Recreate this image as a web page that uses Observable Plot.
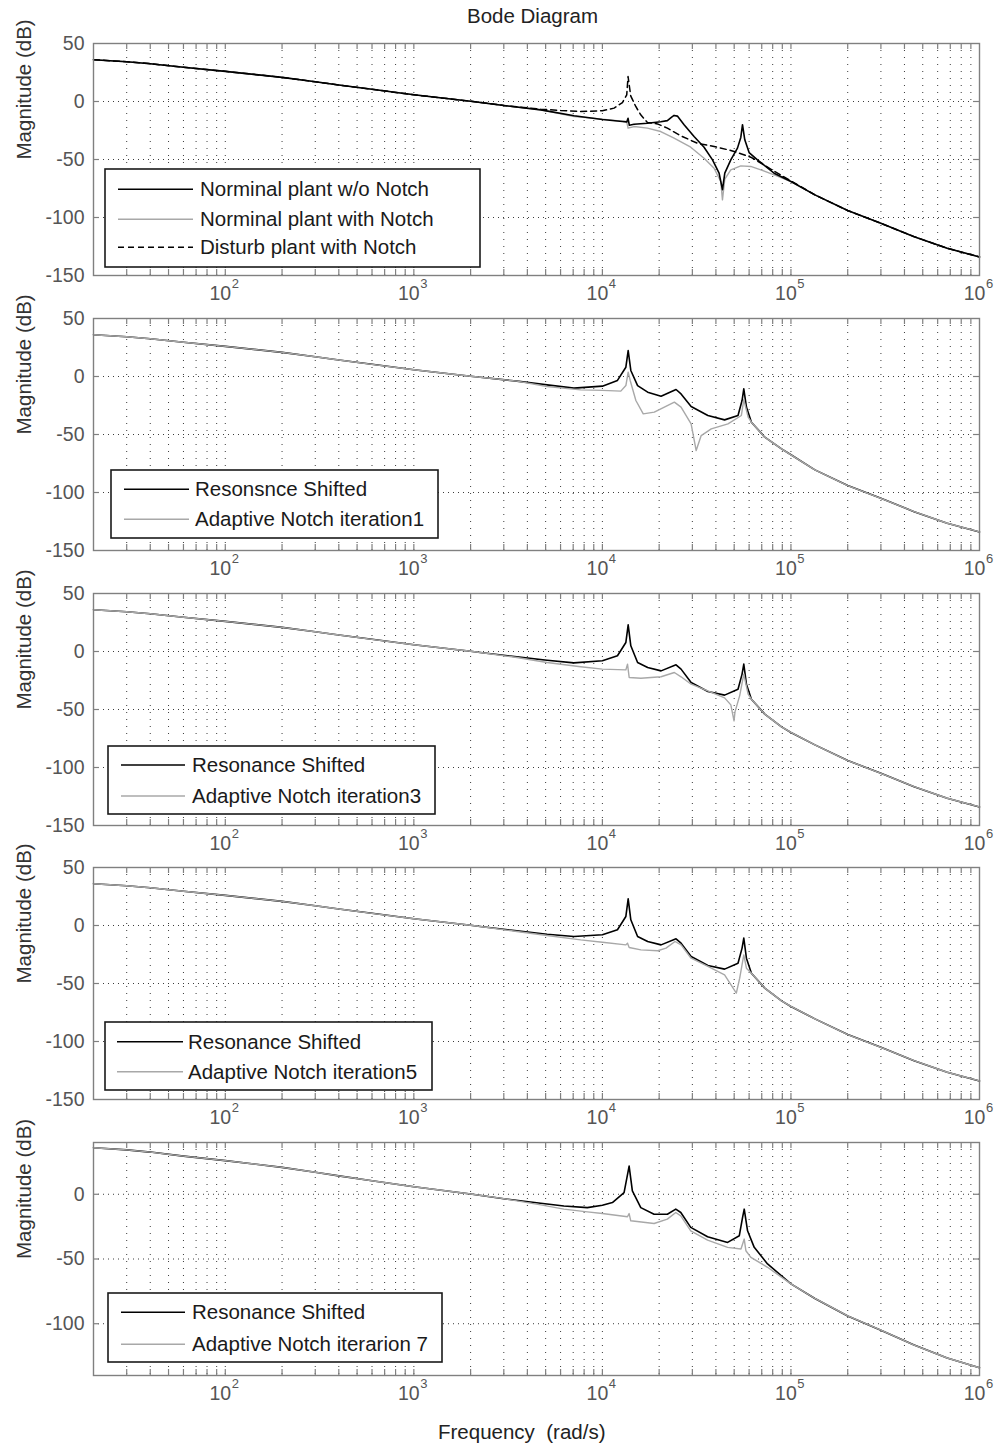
<!DOCTYPE html>
<html>
<head>
<meta charset="utf-8">
<title>Bode Diagram</title>
<script src="https://cdn.jsdelivr.net/npm/d3@7"></script>
<script src="https://cdn.jsdelivr.net/npm/@observablehq/plot@0.6"></script>
<style>
html,body{margin:0;padding:0;background:#fff;}
#page{position:relative;width:995px;height:1447px;overflow:hidden;font-family:"Liberation Sans",Arial,sans-serif;}
#page svg.panel{position:absolute;left:0;}
#overlay{position:absolute;left:0;top:0;pointer-events:none;}
</style>
</head>
<body>
<div id="page"></div>
<script>
// ================= DATA =================
// shared low-frequency part of every curve (rad/s, dB)
const baseFreq = [20, 30, 40, 60, 100, 200, 300, 400, 600, 1000, 2000];
const baseDb   = [36, 34.3, 32.6, 29.5, 26, 20.8, 17, 14.2, 10.5, 5.8, 0.2];
// shared high-frequency tail
const tailFreq = [134000, 200000, 300000, 450000, 674000, 1000000];
const tailDb   = [-80.5, -94, -105, -116.5, -126.5, -134];

// ---- panel 1 ----
const p1NomFreq = [3000, 4710, 7080, 10000, 12770, 13460, 13680, 13900, 14720, 17330, 20390, 22110, 23300, 24000, 24990, 27120, 30630, 34610, 38370, 41580, 43330, 44580, 47970, 52040, 54200, 55340, 56910, 59990, 66420, 81400, 100000];
const p1NomDb   = [-3.4, -7.2, -12.3, -15.5, -17.2, -17.6, -14.5, -20.5, -19.6, -18.7, -17.5, -16.5, -13.5, -12, -12.6, -20, -30.2, -39.4, -50.3, -61.8, -76, -61.8, -50.3, -40.2, -31, -20, -33, -44, -50.3, -61.8, -69];
const p1NotchFreq = [3000, 4710, 7080, 10000, 13460, 13680, 14720, 17330, 20390, 24000, 29410, 34610, 39120, 42420, 43330, 44580, 47970, 54200, 61210, 69210, 81400, 100000];
const p1NotchDb   = [-3.4, -7.2, -12.9, -15.2, -17.5, -23, -21.6, -23, -25.9, -31.6, -39.4, -48.9, -57.5, -69, -84.8, -67, -58.9, -55.5, -56, -58.9, -63.2, -69];
const p1DistFreq = [3000, 4710, 6010, 7680, 10000, 11530, 12770, 13460, 13680, 14130, 15030, 15970, 17330, 19590, 22110, 26050, 31910, 39120, 47970, 54200, 61210, 69210, 81400, 100000];
const p1DistDb   = [-3.4, -6.6, -7.8, -8.6, -8, -5.7, -0.9, 5.7, 21.5, 4.9, -4.3, -11.5, -18, -19.3, -23, -29.6, -36, -38.8, -42.2, -45, -48, -53, -60, -68.5];

// ---- panel 2 ----
const p2ResFreq = [2250, 3520, 5090, 7060, 10000, 12020, 13320, 13700, 14150, 15370, 17380, 20470, 24580, 26130, 29550, 36260, 44470, 52390, 55050, 56220, 58060, 61710, 72620, 89170, 100000];
const p2ResDb   = [-0.6, -4, -7.2, -10, -8.3, -3.4, 8, 22.4, 5.2, -7.8, -13.5, -17, -11.2, -15, -25.9, -33.6, -37.4, -33.6, -20.7, -10.6, -26.4, -39.4, -52.3, -62.4, -67.5];
const p2AdaptFreq = [2250, 3520, 5090, 7670, 10000, 12520, 13320, 13700, 14040, 15050, 16470, 18850, 24080, 26130, 29550, 31430, 33420, 37780, 46340, 54590, 56220, 59280, 61710, 72620, 89170, 100000];
const p2AdaptDb   = [-0.6, -4, -8.6, -11.5, -12, -12.6, -7.8, 3.7, -3.4, -20.7, -32.2, -30.7, -22.1, -26.4, -40.8, -63.8, -50.9, -45.1, -40.8, -33.6, -20, -35, -39.4, -52.3, -62.4, -67.5];

// ---- panel 3 ----
const p3ResFreq = [2250, 3520, 5090, 7060, 10000, 12020, 13320, 13700, 14150, 15370, 17380, 20470, 24580, 26130, 29550, 36260, 44470, 52390, 55050, 56220, 58060, 61710, 72620, 89170, 100000];
const p3ResDb   = [-0.9, -4.6, -7.5, -9.8, -8, -3.7, 7.8, 23, 4.9, -9.5, -13.8, -16.7, -11.5, -15.2, -26.7, -34.5, -37.6, -32.5, -19.5, -10.9, -28.2, -41.1, -54, -65, -69.8];
const p3AdaptFreq = [2250, 3520, 5090, 7670, 10000, 13320, 13590, 13870, 16010, 20470, 24080, 26130, 29550, 36260, 44470, 48000, 49900, 50500, 53480, 56220, 59280, 61710, 72620, 89170, 100000];
const p3AdaptDb   = [-0.9, -5.2, -9.5, -13.2, -15.2, -15.8, -10.9, -22.4, -23, -21.8, -18.1, -21.8, -28.2, -33.9, -40, -46, -59.8, -52, -38, -19.5, -36.8, -41.1, -54, -65, -69.8];

// ---- panel 4 ----
const p4ResFreq = [2250, 3520, 5090, 7060, 10000, 12020, 13320, 13700, 14150, 15370, 17380, 20470, 24580, 26130, 29550, 36260, 44470, 52390, 55050, 56220, 58060, 61710, 72620, 89170, 100000];
const p4ResDb   = [-0.9, -4.6, -7.5, -9.5, -8, -3.7, 7.8, 23, 4.9, -9.5, -13.8, -16.7, -11.5, -15.2, -26.7, -34.5, -37.6, -32.5, -19.5, -10.9, -28.2, -41.1, -54, -65, -69.8];
const p4AdaptFreq = [2250, 3520, 5090, 7670, 10000, 13320, 13590, 13870, 16010, 19640, 21750, 24280, 26130, 29550, 36260, 44470, 51320, 53480, 56220, 58060, 61710, 72620, 89170, 100000];
const p4AdaptDb   = [-0.9, -5.2, -8.6, -12.4, -14.4, -16.7, -15.2, -19, -21, -21.8, -19.5, -13.8, -16.7, -28.2, -35.3, -42.5, -58.3, -45.4, -25.3, -36.8, -41.1, -54, -65, -69.8];

// ---- panel 5 ----
const p5ResFreq = [3000, 4710, 6250, 8320, 10000, 11300, 13030, 13860, 14420, 15980, 18800, 22110, 24500, 26050, 29410, 36130, 46140, 53230, 55390, 56520, 58870, 63860, 75130, 100000];
const p5ResDb   = [-3.4, -6.9, -9, -10.3, -8.5, -6.4, 1.3, 21.8, 2.6, -10.3, -15.4, -15.4, -11.5, -14.1, -25.6, -32.8, -37.2, -32, -17.9, -11.5, -28.2, -41, -53.8, -69.2];
const p5AdaptFreq = [3000, 4710, 6250, 8320, 10000, 13580, 13860, 14140, 18800, 22110, 24500, 26050, 29410, 36130, 46140, 54330, 56520, 57680, 61310, 75130, 100000];
const p5AdaptDb   = [-3.4, -8.2, -11.5, -13.6, -14.9, -17.4, -14.9, -20.5, -22.6, -19.2, -14.1, -16.7, -28.2, -35.4, -41, -42.3, -34.6, -43.6, -48.7, -56.4, -69.2];

// ---- text ----
const titleText = "Bode Diagram";
const yLabelText = "Magnitude (dB)";
const xLabelText = "Frequency  (rad/s)";
const xTickValues = [100, 1000, 10000, 100000, 1000000];
const xTickExponents = ["2", "3", "4", "5", "6"];
const yTicksFull = [-150, -100, -50, 0, 50];
const yTicksLast = [-100, -50, 0];
const p1Labels = ["Norminal plant w/o Notch", "Norminal plant with Notch", "Disturb plant with Notch"];
const p2Labels = ["Resonsnce Shifted", "Adaptive Notch iteration1"];
const p3Labels = ["Resonance Shifted", "Adaptive Notch iteration3"];
const p4Labels = ["Resonance Shifted", "Adaptive Notch iteration5"];
const p5Labels = ["Resonance Shifted", "Adaptive Notch iterarion 7"];

// ================= BUILD =================
const pts = (f, d) => [
  ...baseFreq.map((x, i) => ({f: x, db: baseDb[i]})),
  ...f.map((x, i) => ({f: x, db: d[i]})),
  ...tailFreq.map((x, i) => ({f: x, db: tailDb[i]}))
];

const BLACK = {stroke: "#000", strokeWidth: 1.6};
const GRAY = {stroke: "#a8a8a8", strokeWidth: 1.4};
const DASH = {stroke: "#000", strokeWidth: 1.5, strokeDasharray: "6,4"};

const W = 995, ML = 93, MR = 16, MT = 8, MB = 32;
const frameW = W - ML - MR;
const frameColor = "#808080";
const gridColor = "#3c3c3c";

// minor + major x ticks strictly inside the domain
const xAllTicks = [];
for (let e = 1; e <= 5; e++) for (let m = 1; m <= 9; m++) {
  const v = m * Math.pow(10, e);
  if (v > 20 && v < 1e6) xAllTicks.push(v);
}

const panels = [
  {frameTop: 43, frameH: 232, yDomain: [-150, 50], yTicks: yTicksFull,
   series: [[pts(p1NotchFreq, p1NotchDb), GRAY], [pts(p1NomFreq, p1NomDb), BLACK], [pts(p1DistFreq, p1DistDb), DASH]],
   legend: {box: [105, 169, 480, 267], rows: [189.3, 219.3, 247.3], line: [118, 193], textX: 200, labels: p1Labels, styles: [BLACK, GRAY, DASH]}},
  {frameTop: 318, frameH: 232, yDomain: [-150, 50], yTicks: yTicksFull,
   series: [[pts(p2ResFreq, p2ResDb), BLACK], [pts(p2AdaptFreq, p2AdaptDb), GRAY]],
   legend: {box: [111, 470, 438, 538], rows: [489.3, 519.3], line: [124, 189], textX: 195, labels: p2Labels, styles: [BLACK, GRAY]}},
  {frameTop: 593, frameH: 232, yDomain: [-150, 50], yTicks: yTicksFull,
   series: [[pts(p3ResFreq, p3ResDb), BLACK], [pts(p3AdaptFreq, p3AdaptDb), GRAY]],
   legend: {box: [108, 746, 435, 814], rows: [765, 796], line: [121, 185], textX: 192, labels: p3Labels, styles: [BLACK, GRAY]}},
  {frameTop: 867, frameH: 232, yDomain: [-150, 50], yTicks: yTicksFull,
   series: [[pts(p4ResFreq, p4ResDb), BLACK], [pts(p4AdaptFreq, p4AdaptDb), GRAY]],
   legend: {box: [105, 1022, 432, 1090], rows: [1041.7, 1071.7], line: [117, 183], textX: 188, labels: p4Labels, styles: [BLACK, GRAY]}},
  {frameTop: 1142, frameH: 233, yDomain: [-140, 40], yTicks: yTicksLast,
   series: [[pts(p5ResFreq, p5ResDb), BLACK], [pts(p5AdaptFreq, p5AdaptDb), GRAY]],
   legend: {box: [108, 1293, 442, 1362], rows: [1312.3, 1344.3], line: [121, 185], textX: 192, labels: p5Labels, styles: [BLACK, GRAY]}}
];

const page = document.getElementById("page");

for (const p of panels) {
  const yGrid = p.yTicks.filter(v => v > p.yDomain[0] && v < p.yDomain[1]);
  const chart = Plot.plot({
    width: W,
    height: MT + p.frameH + MB,
    marginLeft: ML, marginRight: MR, marginTop: MT, marginBottom: MB,
    style: {background: "transparent", overflow: "visible", fontFamily: "'Liberation Sans', Arial, sans-serif"},
    x: {type: "log", domain: [20, 1e6], axis: null},
    y: {domain: p.yDomain, axis: null},
    marks: [
      Plot.ruleX(xAllTicks, {x: d => d, stroke: gridColor, strokeWidth: 1, strokeDasharray: "1,6"}),
      Plot.ruleY(yGrid, {y: d => d, stroke: gridColor, strokeWidth: 1, strokeDasharray: "1,4"}),
      ...p.series.map(([data, st]) => Plot.line(data, {x: "f", y: "db", ...st})),
      Plot.frame({stroke: frameColor, strokeWidth: 1.4}),
      Plot.tickX(xAllTicks, {x: d => d, insetTop: p.frameH - 6, stroke: frameColor, strokeWidth: 1.2}),
      Plot.tickX(xAllTicks, {x: d => d, insetBottom: p.frameH - 6, stroke: frameColor, strokeWidth: 1.2}),
      Plot.tickY(yGrid, {y: d => d, insetRight: frameW - 6, stroke: frameColor, strokeWidth: 1.2}),
      Plot.tickY(yGrid, {y: d => d, insetLeft: frameW - 6, stroke: frameColor, strokeWidth: 1.2}),
      Plot.text(p.yTicks, {y: d => d, frameAnchor: "left", dx: -9, textAnchor: "end", text: d => String(d), fontSize: 19.5, fill: "#555"}),
      Plot.text(xTickValues, {x: d => d, frameAnchor: "bottom", dy: 24.5, dx: -5, text: () => "10", fontSize: 19.5, fill: "#555"}),
      Plot.text(xTickValues, {x: d => d, frameAnchor: "bottom", dy: 12.5, dx: 10, text: (d, i) => xTickExponents[i], fontSize: 13, fill: "#555"}),
      Plot.text([yLabelText], {frameAnchor: "left", dx: -69, rotate: -90, text: d => d, fontSize: 20.5, fill: "#333"})
    ]
  });
  chart.classList.add("panel");
  chart.style.top = (p.frameTop - MT) + "px";
  page.appendChild(chart);
}

// overlay: title, x label, legends
const ov = d3.select(page).append("svg").attr("id", "overlay")
  .attr("width", W).attr("height", 1447)
  .style("font-family", "'Liberation Sans', Arial, sans-serif");

ov.append("text").attr("x", 532.5).attr("y", 16).attr("dy", "0.35em")
  .attr("text-anchor", "middle").attr("font-size", 20.5).attr("fill", "#222").text(titleText);
ov.append("text").attr("x", 438).attr("y", 1432).attr("dy", "0.35em")
  .attr("font-size", 20.5).attr("fill", "#222")
  .style("white-space", "pre").text(xLabelText);

for (const p of panels) {
  const L = p.legend;
  const g = ov.append("g");
  g.append("rect").attr("x", L.box[0]).attr("y", L.box[1])
    .attr("width", L.box[2] - L.box[0]).attr("height", L.box[3] - L.box[1])
    .attr("fill", "#fff").attr("stroke", "#1a1a1a").attr("stroke-width", 1.6);
  L.labels.forEach((lab, i) => {
    const st = L.styles[i];
    g.append("line").attr("x1", L.line[0]).attr("x2", L.line[1])
      .attr("y1", L.rows[i]).attr("y2", L.rows[i])
      .attr("stroke", st.stroke).attr("stroke-width", st.strokeWidth)
      .attr("stroke-dasharray", st.strokeDasharray || null);
    g.append("text").attr("x", L.textX).attr("y", L.rows[i]).attr("dy", "0.35em")
      .attr("font-size", 20.5).attr("fill", "#1a1a1a").text(lab);
  });
}
</script>
</body>
</html>
